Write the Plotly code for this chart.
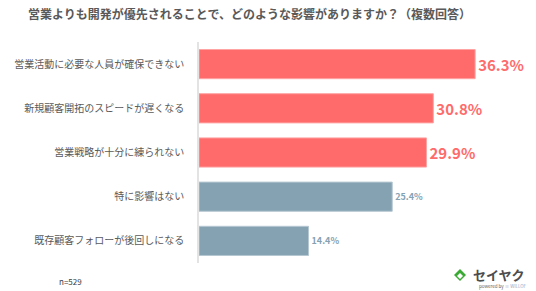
import plotly.graph_objects as go

categories = ["営業活動に必要な人員が確保できない", "新規顧客開拓のスピードが遅くなる", "営業戦略が十分に練られない", "特に影響はない", "既存顧客フォローが後回しになる"]
values = [36.3, 30.8, 29.9, 25.4, 14.4]
labels = ["36.3%", "30.8%", "29.9%", "25.4%", "14.4%"]
title_text = "営業よりも開発が優先されることで、どのような影響がありますか？（複数回答）"
n_text = "n=529"

RED = "#FF6B6B"
BLUE = "#85A2B3"
colors = [RED, RED, RED, BLUE, BLUE]
line_colors = ["#FFA3A3", "#FFA3A3", "#FFA3A3", "#B5C7D1", "#B5C7D1"]
text_sizes = [15, 15, 15, 9, 9]

FONT = "Noto Sans CJK JP"

W, H = 536, 291
pl, pr, pt, pb = 199, 0, 42, 28
pw, ph = W - pl - pr, H - pt - pb


def px(x):
    return (x - pl) / pw


def py(y):
    return 1 - (y - pt) / ph


fig = go.Figure(go.Bar(
    y=categories, x=values, orientation="h",
    marker=dict(color=colors, line=dict(color=line_colors, width=1)),
    text=["<b>%s</b>" % t for t in labels], textposition="outside",
    textfont=dict(color=colors, size=text_sizes, family=FONT),
    constraintext="none", cliponaxis=False,
    hoverinfo="skip",
))

annots = [
    dict(text="<b>" + title_text + "</b>", x=px(27), y=py(13.5), yanchor="middle",
         font=dict(size=12, color="#595959", family=FONT)),
    dict(text=n_text, x=px(58), y=py(281), yanchor="middle",
         font=dict(size=8, color="#404040", family=FONT)),
    dict(text="<b>セイヤク</b>", x=px(472), y=py(274.5), yanchor="middle",
         font=dict(size=13, color="#4D4D4D", family=FONT)),
    dict(text="powered by <span style='color:#8FA8C8'>≡ WILLOF</span>", x=px(478), y=py(291), yanchor="bottom",
         font=dict(size=4.5, color="#666666", family=FONT)),
]
for a in annots:
    a.update(xref="paper", yref="paper", showarrow=False, xanchor="left", borderpad=0)

fig.update_layout(
    width=W, height=H,
    margin=dict(l=pl, r=pr, t=pt, b=pb),
    paper_bgcolor="white", plot_bgcolor="white",
    bargap=0.34, showlegend=False,
    font=dict(family=FONT),
    xaxis=dict(visible=False, range=[0, 44.3], fixedrange=True),
    yaxis=dict(autorange="reversed", showline=True, linecolor="#E3E3E3", linewidth=1.5,
               ticks="", ticklabelstandoff=11,
               tickfont=dict(size=10, color="#595959", family=FONT)),
    annotations=annots,
)

# logo icon (green diamond)
cx, cy, r = 460, 275, 6
fig.add_shape(type="path", xref="paper", yref="paper",
              path="M %f %f L %f %f L %f %f L %f %f Z" % (px(cx - r), py(cy), px(cx), py(cy - r), px(cx + r), py(cy), px(cx), py(cy + r)),
              fillcolor="#3AAA35", line=dict(width=0))
fig.add_shape(type="path", xref="paper", yref="paper",
              path="M %f %f L %f %f L %f %f L %f %f Z" % (px(cx - 3), py(cy + 1), px(cx), py(cy - 2), px(cx + 3), py(cy + 1), px(cx), py(cy + 4)),
              fillcolor="white", line=dict(width=0))

fig.write_html("out.html")
